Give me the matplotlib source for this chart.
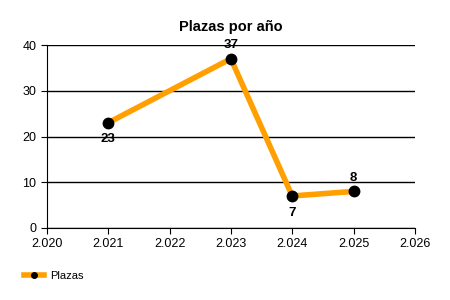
import matplotlib
matplotlib.use("Agg")
import matplotlib.pyplot as plt
from matplotlib.ticker import FuncFormatter
from matplotlib.lines import Line2D

years = [2021, 2023, 2024, 2025]
plazas = [23, 37, 7, 8]
label_pos = ["below", "above", "below", "above"]

plt.rcParams['font.family'] = ['Liberation Sans', 'DejaVu Sans']

fig = plt.figure(figsize=(4.5, 3), dpi=100)
ax = fig.add_axes([0.104, 0.24, 0.818, 0.61])

ax.plot(years, plazas, color="#FFA000", linewidth=4, marker="o",
        markersize=7.5, markerfacecolor="black", markeredgecolor="black",
        zorder=3)

for x, y, pos in zip(years, plazas, label_pos):
    dy = 10 if pos == "above" else -12
    ax.annotate(str(y), (x, y), xytext=(0, dy), textcoords="offset points",
                ha="center", va="center", fontsize=9.5, fontweight="bold")

ax.set_xlim(2020, 2026)
ax.set_ylim(0, 40)
ax.set_xticks(range(2020, 2027))
ax.set_yticks([0, 10, 20, 30, 40])
ax.xaxis.set_major_formatter(FuncFormatter(lambda v, p: "{:,.0f}".format(v).replace(",", ".")))
ax.yaxis.grid(True, color="black", linewidth=1)
ax.set_axisbelow(True)
for s in ["top", "right"]:
    ax.spines[s].set_visible(False)
ax.tick_params(labelsize=9, length=4, color="black")

ax.set_title("Plazas por año", fontsize=10.5, fontweight="bold", pad=10)

handle = Line2D([], [], color="#FFA000", linewidth=4, marker="o", markersize=4,
                markerfacecolor="black", markeredgecolor="black")
fig.legend(handles=[handle], labels=["Plazas"], loc="lower left",
           bbox_to_anchor=(0.03, 0.03), frameon=False, fontsize=8, handlelength=1.8,
           handletextpad=0.6)

fig.savefig("out.png", dpi=100)
